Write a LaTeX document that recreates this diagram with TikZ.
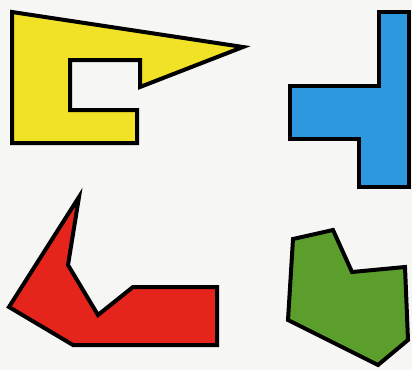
\documentclass[tikz,border=0pt]{standalone}
\usepackage{tikz}
\usepackage{xcolor}
\definecolor{paper}{HTML}{F6F6F4}
\definecolor{lemon}{HTML}{F2E227}
\definecolor{sky}{HTML}{2E98DE}
\definecolor{scarlet}{HTML}{E5241C}
\definecolor{grass}{HTML}{5C9E2C}
\tikzset{
  piece/.style={draw=black,line width=4pt,line join=miter}
}

\begin{document}
\begin{tikzpicture}[x=1pt,y=-1pt]
        \fill[paper] (0,0) rectangle (412,370);
        \useasboundingbox (0,0) rectangle (412,370);
        % yellow flag
        \draw[piece,fill=lemon] (12,12) -- (243,47) -- (140,87) -- (140,60) -- (70,60) -- (70,110) -- (137,110) -- (137,143) -- (12,143) -- cycle;
        % blue
        \draw[piece,fill=sky] (379,12) -- (409,12) -- (409,187) -- (359,187) -- (359,139) -- (290,139) -- (290,86) -- (379,86) -- cycle;
        % red
        \draw[piece,fill=scarlet] (79,197) -- (68,265) -- (98,315) -- (133,287) -- (217,287) -- (217,345) -- (73,345) -- (9,307) -- cycle;
        % green
        \draw[piece,fill=grass] (293,239) -- (333,230) -- (352,272) -- (405,267) -- (408,340) -- (378,365) -- (288,320) -- cycle;
      \end{tikzpicture}
\end{document}
